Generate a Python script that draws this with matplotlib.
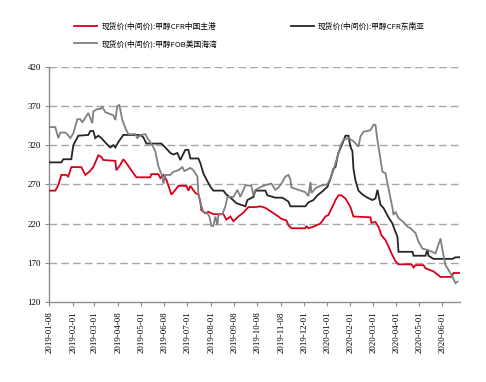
import matplotlib
matplotlib.use("Agg")
import matplotlib.pyplot as plt

# ---- data (x = trading-day index along the category axis) ----
tick_pos = [0, 24, 45, 69, 92, 115, 138, 162, 185, 208, 232, 255, 278, 301, 324, 347, 370, 393]
tick_labels = ["2019-01-08", "2019-02-01", "2019-03-01", "2019-04-08", "2019-05-01", "2019-06-08",
               "2019-07-01", "2019-08-01", "2019-09-08", "2019-10-08", "2019-11-08", "2019-12-01",
               "2020-01-01", "2020-02-01", "2020-03-01", "2020-04-01", "2020-05-01", "2020-06-01"]

red_x = [0, 6, 9, 12, 17, 19, 22, 32, 36, 40, 44, 49, 52, 54, 66, 67, 71, 74, 77, 82, 87, 101, 102, 109,
         111, 114, 117, 121, 122, 126, 129, 137, 139, 141, 146, 149, 151, 152, 156, 159, 164, 174, 177,
         181, 184, 189, 194, 199, 206, 211, 216, 222, 229, 232, 237, 239, 242, 256, 257, 259, 264, 271,
         276, 279, 282, 284, 286, 289, 292, 296, 301, 304, 321, 322, 326, 329, 332, 336, 339, 342, 346,
         349, 362, 364, 366, 374, 376, 384, 391, 402, 404, 410]
red_y = [262, 262, 269, 282, 282, 280, 292, 292, 282, 286, 292, 307, 305, 301, 300, 288, 295, 302, 297,
         288, 279, 279, 283, 283, 278, 282, 276, 261, 257, 263, 268, 268, 262, 268, 259, 257, 248, 237,
         233, 235, 232, 232, 225, 229, 223, 229, 234, 241, 241, 242, 240, 235, 229, 226, 224, 218, 214,
         214, 217, 214, 216, 220, 229, 231, 239, 244, 250, 256, 256, 252, 241, 229, 228, 221, 222, 216,
         205, 199, 191, 182, 172, 168, 168, 164, 167, 167, 163, 159, 152, 152, 157, 157]

black_x = [0, 12, 14, 22, 24, 29, 39, 41, 44, 46, 49, 52, 57, 61, 64, 66, 69, 74, 91, 94, 97, 112, 116,
           121, 124, 128, 131, 134, 136, 139, 141, 149, 151, 154, 158, 161, 164, 174, 177, 182, 187, 196,
           198, 204, 206, 216, 218, 226, 233, 239, 241, 256, 259, 264, 268, 273, 278, 281, 284, 286, 288,
           289, 293, 296, 299, 301, 303, 304, 306, 309, 313, 318, 323, 326, 328, 331, 334, 339, 343, 344,
           348, 349, 363, 364, 376, 378, 379, 384, 403, 406, 410]
black_y = [298, 298, 302, 302, 320, 332, 333, 338, 338, 329, 332, 329, 322, 317, 320, 317, 324, 333, 333,
           330, 322, 322, 317, 310, 308, 310, 301, 309, 314, 314, 303, 303, 297, 284, 274, 267, 262, 262,
           257, 252, 246, 242, 250, 254, 262, 262, 256, 253, 253, 248, 242, 242, 247, 250, 256, 261, 267,
           277, 290, 292, 305, 310, 322, 332, 332, 318, 312, 290, 275, 262, 257, 253, 250, 252, 263, 244,
           240, 228, 220, 216, 203, 184, 184, 179, 179, 187, 179, 175, 175, 177, 177]

gray_x = [0, 6, 9, 11, 16, 18, 21, 24, 28, 31, 33, 36, 39, 43, 44, 48, 51, 53, 56, 64, 66, 68, 70, 73,
          76, 79, 86, 88, 91, 96, 98, 103, 106, 109, 113, 114, 116, 121, 124, 129, 133, 135, 138, 141,
          144, 148, 149, 151, 154, 158, 160, 162, 164, 166, 168, 169, 173, 176, 178, 184, 188, 191, 196,
          202, 204, 206, 212, 216, 222, 226, 229, 232, 236, 239, 241, 242, 249, 256, 259, 261, 262, 266,
          269, 273, 278, 281, 284, 288, 291, 294, 299, 304, 309, 311, 314, 321, 324, 326, 328, 329, 333,
          336, 339, 343, 344, 346, 349, 354, 358, 361, 366, 369, 373, 379, 386, 391, 393, 396, 399, 403,
          406, 408]
gray_y = [343, 343, 329, 336, 336, 334, 329, 335, 353, 353, 349, 355, 361, 348, 363, 366, 366, 369, 362,
          358, 352, 370, 371, 352, 342, 334, 334, 329, 333, 334, 329, 320, 312, 293, 280, 271, 282, 282,
          286, 288, 292, 287, 289, 291, 288, 280, 259, 246, 235, 233, 229, 217, 217, 229, 218, 231, 232,
          242, 254, 254, 263, 254, 269, 268, 256, 263, 267, 269, 271, 263, 266, 271, 280, 282, 276, 266,
          263, 260, 255, 273, 259, 265, 267, 269, 270, 278, 288, 305, 319, 327, 329, 325, 318, 331, 337,
          339, 346, 346, 326, 318, 286, 284, 265, 240, 231, 235, 227, 222, 216, 214, 208, 197, 188, 186,
          182, 201, 186, 167, 161, 152, 144, 146]

series_names = ["现货价(中间价):甲醇CFR中国主港", "现货价(中间价):甲醇CFR东南亚", "现货价(中间价):甲醇FOB美国海湾"]
series_colors = ["#D9001B", "#262626", "#808080"]
y_ticks = [120, 170, 220, 270, 320, 370, 420]

# ---- figure ----
W, H = 486, 382
fig = plt.figure(figsize=(W / 100, H / 100), dpi=100)
ax = fig.add_axes([49.3 / W, (H - 302) / H, (459.5 - 49.3) / W, (302 - 66.7) / H])

for yv in y_ticks[1:]:
    ax.axhline(yv, color="#A6A6A6", lw=1.0, ls=(0, (5.5, 3)), zorder=1)

lines = []
for xs, ys, c in [(red_x, red_y, series_colors[0]), (black_x, black_y, series_colors[1]),
                  (gray_x, gray_y, series_colors[2])]:
    ln, = ax.plot(xs, ys, color=c, lw=1.3, zorder=3, solid_joinstyle="miter")
    lines.append(ln)

ax.set_xlim(0, 410)
ax.set_ylim(120, 420)
ax.set_yticks(y_ticks)
ax.set_yticklabels([str(v) for v in y_ticks], fontsize=6.5, family="Liberation Serif")
ax.set_xticks(tick_pos)
ax.set_xticklabels(tick_labels, rotation=90, fontsize=6.4, family="Liberation Serif")
for s in ["top", "right"]:
    ax.spines[s].set_visible(False)
for s in ["left", "bottom"]:
    ax.spines[s].set_color("#8C8C8C")
    ax.spines[s].set_linewidth(1.0)
ax.tick_params(axis="both", color="#8C8C8C", length=3, width=0.8)
ax.tick_params(axis="x", pad=4)
ax.tick_params(axis="y", pad=3)

handles = [lines[0], lines[2], lines[1]]
labels = [series_names[0], series_names[2], series_names[1]]
fig.legend(handles, labels, ncol=2, loc="upper left", bbox_to_anchor=(74 / W, 1 - 22 / H),
           frameon=False, prop={"family": ["Noto Sans CJK SC", "DejaVu Sans"], "size": 5.6},
           handlelength=3.0, handletextpad=0.5, columnspacing=9.5, labelspacing=1.2,
           borderpad=0, borderaxespad=0)

fig.savefig("out.png", dpi=100)
